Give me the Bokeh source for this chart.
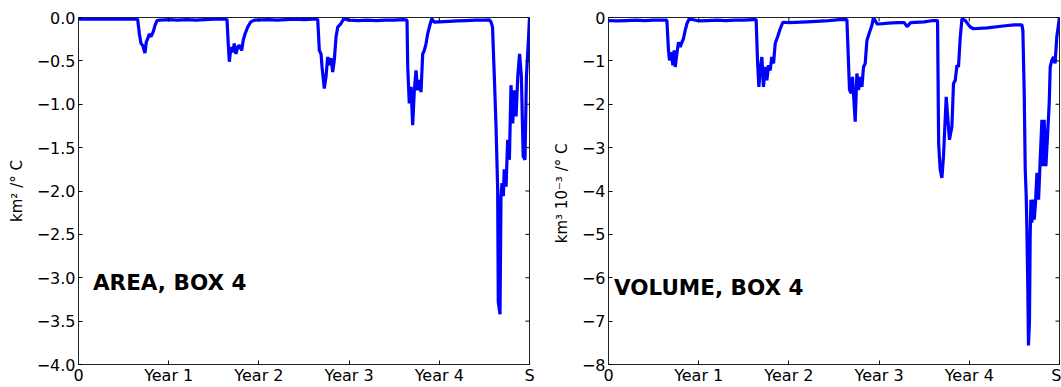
import math
from bokeh.plotting import figure
from bokeh.layouts import row
from bokeh.models import Range1d, FixedTicker, Label, ColumnDataSource
from bokeh.embed import file_html
from bokeh.resources import INLINE

# ---------------- data ----------------
year_ticks = [0, 1, 2, 3, 4, 5]
year_labels = ["0", "Year 1", "Year 2", "Year 3", "Year 4", "S"]

area_t = [0.0, 0.1, 0.2, 0.3, 0.4, 0.5, 0.6, 0.656, 0.675, 0.693, 0.711, 0.737, 0.752, 0.767,
          0.785, 0.804, 0.83, 0.848, 0.87, 0.9, 1.0, 1.1, 1.2, 1.3, 1.4, 1.5, 1.6, 1.646,
          1.66, 1.672, 1.69, 1.71, 1.727, 1.746, 1.765, 1.783, 1.809, 1.827, 1.846, 1.876,
          1.91, 1.95, 2.1, 2.2, 2.3, 2.4, 2.5, 2.6, 2.652, 2.67, 2.689, 2.70, 2.725, 2.744,
          2.763, 2.78, 2.80, 2.818, 2.836, 2.855, 2.874, 2.91, 2.94, 3.0, 3.1, 3.2, 3.3, 3.4,
          3.5, 3.6, 3.642, 3.65, 3.667, 3.686, 3.705, 3.723, 3.742, 3.76, 3.778, 3.797,
          3.816, 3.834, 3.853, 3.871, 3.89, 3.916, 3.945, 4.0, 4.1, 4.2, 4.3, 4.4, 4.5,
          4.554, 4.573, 4.59, 4.61, 4.629, 4.647, 4.654, 4.673, 4.684, 4.695, 4.71, 4.72,
          4.74, 4.758, 4.777, 4.795, 4.814, 4.83, 4.851, 4.87, 4.89, 4.91, 4.93, 4.95,
          4.966, 4.99, 5.0]
area_v = [-0.02, -0.02, -0.015, -0.02, -0.02, -0.015, -0.02, -0.02, -0.19, -0.30, -0.32, -0.41,
          -0.28, -0.245, -0.19, -0.22, -0.16, -0.09, -0.035, -0.03, -0.025, -0.03, -0.025,
          -0.03, -0.025, -0.02, -0.02, -0.02, -0.30, -0.51, -0.34, -0.40, -0.30, -0.42, -0.34,
          -0.32, -0.38, -0.26, -0.19, -0.11, -0.05, -0.03, -0.025, -0.03, -0.025, -0.02,
          -0.025, -0.02, -0.02, -0.38, -0.42, -0.57, -0.82, -0.68, -0.455, -0.55, -0.47,
          -0.63, -0.49, -0.225, -0.11, -0.07, -0.015, -0.03, -0.035, -0.03, -0.035, -0.03,
          -0.03, -0.025, -0.03, -0.57, -0.99, -0.80, -1.24, -0.84, -0.61, -0.84, -0.72,
          -0.86, -0.42, -0.38, -0.30, -0.19, -0.11, -0.015, -0.054, -0.05, -0.045, -0.04,
          -0.035, -0.03, -0.03, -0.027, -0.05, -0.11, -0.68, -1.26, -1.98, -3.28, -3.42,
          -2.06, -1.91, -2.06, -1.75, -1.95, -1.41, -1.64, -0.78, -1.22, -0.84, -1.14, -0.68,
          -0.42, -0.68, -1.60, -1.64, -0.68, -0.22, 0.0]

vol_t = [0.0, 0.1, 0.2, 0.3, 0.4, 0.5, 0.6, 0.647, 0.665, 0.676, 0.695, 0.714, 0.728, 0.74,
         0.758, 0.776, 0.795, 0.814, 0.831, 0.85, 0.869, 0.895, 1.0, 1.1, 1.2, 1.3, 1.4,
         1.5, 1.6, 1.637, 1.652, 1.667, 1.682, 1.70, 1.718, 1.737, 1.756, 1.774, 1.793,
         1.81, 1.83, 1.848, 1.874, 1.904, 1.933, 2.0, 2.2, 2.4, 2.56, 2.62, 2.643, 2.672,
         2.69, 2.705, 2.735, 2.754, 2.772, 2.79, 2.81, 2.827, 2.846, 2.865, 2.894, 2.92,
         2.938, 2.976, 3.0, 3.1, 3.2, 3.28, 3.31, 3.35, 3.5, 3.6, 3.648, 3.66, 3.677, 3.696,
         3.714, 3.744, 3.763, 3.78, 3.807, 3.825, 3.844, 3.863, 3.88, 3.9, 3.918, 3.955,
         4.01, 4.047, 4.2, 4.4, 4.5, 4.583, 4.594, 4.609, 4.62, 4.631, 4.638, 4.649, 4.656,
         4.667, 4.675, 4.683, 4.694, 4.705, 4.72, 4.734, 4.75, 4.768, 4.786, 4.805, 4.816,
         4.83, 4.849, 4.867, 4.886, 4.897, 4.915, 4.933, 4.951, 4.97, 5.0]
vol_v = [-0.07, -0.08, -0.07, -0.06, -0.07, -0.06, -0.06, -0.06, -0.76, -0.99, -0.80, -1.10,
         -0.76, -1.14, -0.83, -0.57, -0.68, -0.57, -0.49, -0.30, -0.145, -0.03, -0.08,
         -0.07, -0.06, -0.07, -0.06, -0.06, -0.05, -0.05, -0.99, -1.60, -1.22, -0.91, -1.60,
         -1.14, -1.45, -1.10, -1.22, -0.91, -1.06, -0.60, -0.45, -0.26, -0.11, -0.12, -0.10,
         -0.08, -0.05, -0.05, -0.05, -1.67, -1.75, -1.37, -2.40, -1.29, -1.67, -1.37, -1.60,
         -1.14, -1.06, -0.53, -0.34, -0.18, 0.0, -0.145, -0.15, -0.13, -0.12, -0.12, -0.21,
         -0.12, -0.10, -0.07, -0.07, -2.90, -3.50, -3.70, -3.20, -1.83, -2.36, -2.82, -2.52,
         -1.52, -1.45, -1.10, -1.14, -0.45, -0.03, -0.07, -0.22, -0.26, -0.24, -0.19, -0.17,
         -0.17, -0.30, -1.75, -3.50, -4.12, -4.81, -6.30, -7.56, -7.00, -5.04, -4.20, -4.73,
         -4.20, -4.66, -4.27, -3.58, -4.20, -3.28, -2.36, -3.43, -2.36, -3.43, -2.74, -1.98,
         -1.14, -0.99, -0.91, -1.06, -0.45, 0.0]

area_yticks = [0.0, -0.5, -1.0, -1.5, -2.0, -2.5, -3.0, -3.5, -4.0]
area_ylabels = ["0.0", "\u22120.5", "\u22121.0", "\u22121.5", "\u22122.0", "\u22122.5",
                "\u22123.0", "\u22123.5", "\u22124.0"]
vol_yticks = [0, -1, -2, -3, -4, -5, -6, -7, -8]
vol_ylabels = ["0", "\u22121", "\u22122", "\u22123", "\u22124", "\u22125", "\u22126",
               "\u22127", "\u22128"]

FONT = "DejaVu Sans"
LINE = "#0000ff"
SPINE = "#222222"


def make_panel(t, v, yticks, ylabels, ymin, ylabel, title, tx, ty,
               width, border_left, border_right):
    p = figure(width=width, height=387, output_backend="svg", toolbar_location=None,
               x_range=Range1d(0, 5), y_range=Range1d(ymin, 0),
               min_border_left=border_left, min_border_right=border_right,
               min_border_top=17, min_border_bottom=0)
    p.xgrid.visible = False
    p.ygrid.visible = False
    p.outline_line_color = SPINE
    p.outline_line_width = 1
    p.background_fill_color = "white"
    p.border_fill_color = "white"

    src = ColumnDataSource(dict(t=t, v=v))
    p.line("t", "v", source=src, line_color=LINE, line_width=3.2)

    xa = p.xaxis[0]
    xa.ticker = FixedTicker(ticks=year_ticks)
    xa.major_label_overrides = {k: s for k, s in zip(year_ticks, year_labels)}
    ya = p.yaxis[0]
    ya.ticker = FixedTicker(ticks=yticks)
    ya.major_label_overrides = {k: s for k, s in zip(yticks, ylabels)}
    ya.axis_label = ylabel
    ya.axis_label_text_font = FONT
    ya.axis_label_text_font_size = "15px"
    ya.axis_label_text_font_style = "normal"
    ya.axis_label_text_color = "black"
    ya.axis_label_standoff = 8
    ya.major_label_standoff = 3
    xa.major_label_standoff = 1

    for ax in (xa, ya):
        ax.major_label_text_font = FONT
        ax.major_label_text_font_size = "16px"
        ax.major_label_text_color = "black"
        ax.major_tick_in = 4
        ax.major_tick_out = 0
        ax.minor_tick_line_color = None
        ax.axis_line_color = SPINE
        ax.major_tick_line_color = "black"

    # inward tick marks on the right and top edges (screen-length rays from the ticks)
    p.ray(x=[5] * len(yticks), y=yticks, length=4, length_units="screen",
          angle=math.pi, line_color="black", line_width=1)
    p.ray(x=year_ticks, y=[0] * len(year_ticks), length=4, length_units="screen",
          angle=-math.pi / 2, line_color="black", line_width=1)

    p.add_layout(Label(x=tx, y=ty, text=title, text_font=FONT, text_font_size="21.5px",
                       text_font_style="bold", text_color="black",
                       text_baseline="alphabetic", text_align="left"))
    return p


p1 = make_panel(area_t, area_v, area_yticks, area_ylabels, -4.0,
                "km\u00b2 /\u00b0 C", "AREA, BOX 4", 0.16, -3.05,
                width=540, border_left=78, border_right=11)
p2 = make_panel(vol_t, vol_v, vol_yticks, vol_ylabels, -8.0,
                "km\u00b3  10\u207b\u00b3 /\u00b0 C", "VOLUME, BOX 4", 0.06, -6.22,
                width=521, border_left=68, border_right=2)

layout = row(p1, p2)
open("out.html", "w").write(file_html(layout, INLINE))
